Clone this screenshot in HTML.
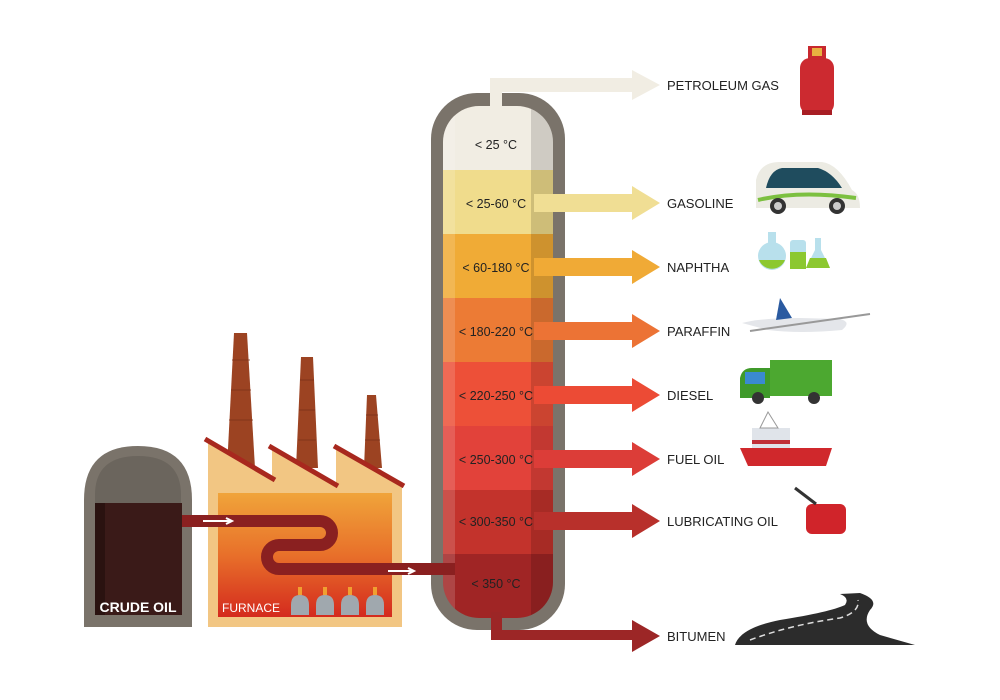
<!DOCTYPE html>
<html><head><meta charset="utf-8"><style>
html,body{margin:0;padding:0;background:#fff;}
svg{display:block;font-family:"Liberation Sans",sans-serif;}
</style></head><body>
<svg width="1000" height="700" viewBox="0 0 1000 700" xmlns="http://www.w3.org/2000/svg">
<defs>
<linearGradient id="furn" x1="0" y1="0" x2="0" y2="1">
<stop offset="0" stop-color="#f0a43a"/><stop offset="0.5" stop-color="#e8702a"/><stop offset="1" stop-color="#d42a1e"/>
</linearGradient>
<clipPath id="col"><rect x="443" y="106" width="110" height="512" rx="36"/></clipPath>
</defs>

<!-- column -->
<rect x="431" y="93" width="134" height="537" rx="46" fill="#7a736a"/>
<g clip-path="url(#col)">
<rect x="443" y="100" width="110" height="70" fill="#f1ede3"/>
<rect x="443" y="170" width="110" height="64" fill="#f0dc8c"/>
<rect x="443" y="234" width="110" height="64" fill="#f0ab36"/>
<rect x="443" y="298" width="110" height="64" fill="#ec7b35"/>
<rect x="443" y="362" width="110" height="64" fill="#ed5038"/>
<rect x="443" y="426" width="110" height="64" fill="#e2423a"/>
<rect x="443" y="490" width="110" height="64" fill="#c3332c"/>
<rect x="443" y="554" width="110" height="70" fill="#a02525"/>
<rect x="443" y="100" width="12" height="520" fill="#fff" opacity="0.15"/>
<rect x="531" y="100" width="22" height="520" fill="#000" opacity="0.14"/>
</g>

<!-- petroleum gas pipe -->
<path d="M490 108 V78 H632 V70 L660 85 L632 100 V92 H502 V108 Z" fill="#f1ede3"/>

<!-- arrows -->
<g>
<path d="M534 194 H632 V186 L660 203 L632 220 V212 H534 Z" fill="#f0de94"/>
<path d="M534 258 H632 V250 L660 267 L632 284 V276 H534 Z" fill="#f0aa36"/>
<path d="M534 322 H632 V314 L660 331 L632 348 V340 H534 Z" fill="#ec7335"/>
<path d="M534 386 H632 V378 L660 395 L632 412 V404 H534 Z" fill="#ec4b35"/>
<path d="M534 450 H632 V442 L660 459 L632 476 V468 H534 Z" fill="#dc3d38"/>
<path d="M534 512 H632 V504 L660 521 L632 538 V530 H534 Z" fill="#b8302b"/>
<path d="M491 612 V640 H632 V652 L660 636 L632 620 V630 H502 V612 Z" fill="#9c2626"/>
</g>

<!-- labels in column -->
<g font-size="12.5" fill="#222" text-anchor="middle">
<text x="496" y="149">&lt; 25 °C</text>
<text x="496" y="208">&lt; 25-60 °C</text>
<text x="496" y="272">&lt; 60-180 °C</text>
<text x="496" y="336">&lt; 180-220 °C</text>
<text x="496" y="400">&lt; 220-250 °C</text>
<text x="496" y="464">&lt; 250-300 °C</text>
<text x="496" y="526">&lt; 300-350 °C</text>
<text x="496" y="588">&lt; 350 °C</text>
</g>

<g font-size="13" fill="#222">
<text x="667" y="90">PETROLEUM GAS</text>
<text x="667" y="208">GASOLINE</text>
<text x="667" y="272">NAPHTHA</text>
<text x="667" y="336">PARAFFIN</text>
<text x="667" y="400">DIESEL</text>
<text x="667" y="464">FUEL OIL</text>
<text x="667" y="526">LUBRICATING OIL</text>
<text x="667" y="641">BITUMEN</text>
</g>

<!-- crude oil tank -->
<path d="M84 627 V500 Q84 446 138 446 Q192 446 192 500 V627 Z" fill="#7a736a"/>
<path d="M95 503 V495 Q95 456 138 456 Q181 456 181 495 V503 Z" fill="#6b655d"/>
<rect x="95" y="503" width="87" height="112" fill="#3a1a18"/>
<rect x="95" y="503" width="10" height="112" fill="#2a1210"/>
<text x="138" y="612" font-size="14" font-weight="bold" fill="#fff" text-anchor="middle">CRUDE OIL</text>

<!-- chimneys -->
<path d="M234 333 H247 L255 468 H227 Z" fill="#9c4322"/>
<path d="M301 357 H313 L318 468 H296 Z" fill="#9c4322"/>
<path d="M367 395 H376 L382 468 H364 Z" fill="#9c4322"/>
<g stroke="#7a3018" stroke-width="0.8">
<line x1="232" y1="360" x2="250" y2="360"/><line x1="231" y1="390" x2="251" y2="390"/><line x1="229" y1="420" x2="253" y2="420"/>
<line x1="300" y1="380" x2="314" y2="380"/><line x1="299" y1="410" x2="315" y2="410"/><line x1="298" y1="440" x2="316" y2="440"/>
<line x1="366" y1="415" x2="378" y2="415"/><line x1="365" y1="440" x2="380" y2="440"/>
</g>
<!-- furnace building -->
<path d="M208 627 V440 L272 478 V447 L336 485 V447 L402 485 V627 Z" fill="#f2c683"/>
<g stroke="#a8281e" stroke-width="5" stroke-linecap="butt">
<line x1="205" y1="439" x2="275" y2="480"/>
<line x1="269" y1="446" x2="338" y2="486"/>
<line x1="334" y1="446" x2="404" y2="486"/>
</g>
<rect x="218" y="493" width="174" height="124" fill="url(#furn)"/>
<!-- coil -->
<path d="M182 521 H320 A12 12 0 0 1 320 545 H279 A12 12 0 0 0 279 569 H455" fill="none" stroke="#8a2020" stroke-width="12"/>
<path d="M203 521 H232 M226 518 L232 521 L226 524" stroke="#fff" stroke-width="2" fill="none"/>
<path d="M388 571 H414 M408 568 L414 571 L408 574" stroke="#fff" stroke-width="2" fill="none"/>
<text x="222" y="612" font-size="12" fill="#fff">FURNACE</text>
<g fill="#a0a8ae">
<path d="M291 615 V605 Q291 595 300 595 Q309 595 309 605 V615 Z"/>
<path d="M316 615 V605 Q316 595 325 595 Q334 595 334 605 V615 Z"/>
<path d="M341 615 V605 Q341 595 350 595 Q359 595 359 605 V615 Z"/>
<path d="M366 615 V605 Q366 595 375 595 Q384 595 384 605 V615 Z"/>
</g>
<g fill="#f0a030"><rect x="298" y="587" width="4" height="8"/><rect x="323" y="587" width="4" height="8"/><rect x="348" y="587" width="4" height="8"/><rect x="373" y="587" width="4" height="8"/></g>

<!-- icons -->
<rect x="800" y="58" width="34" height="56" rx="10" fill="#cc2a30"/>
<rect x="808" y="46" width="18" height="14" fill="#c8282e"/>
<rect x="812" y="48" width="10" height="8" fill="#e8b040"/>
<rect x="802" y="110" width="30" height="5" fill="#a81e24"/>
<path d="M756 208 V180 Q760 162 780 162 H822 Q838 164 852 190 Q860 194 860 208 Z" fill="#ecebe3"/>
<path d="M766 188 Q770 170 782 168 H818 Q832 172 842 188 Z" fill="#1f4c5e"/>
<path d="M758 200 Q800 190 856 198" stroke="#7cc040" stroke-width="4" fill="none"/>
<circle cx="778" cy="206" r="8" fill="#333"/><circle cx="837" cy="206" r="8" fill="#333"/>
<circle cx="778" cy="206" r="4" fill="#ccc"/><circle cx="837" cy="206" r="4" fill="#ccc"/>
<circle cx="772" cy="256" r="14" fill="#b8e0ec"/><path d="M759 260 A14 14 0 0 0 785 260 Z" fill="#8cc830"/>
<rect x="768" y="232" width="8" height="12" fill="#b8e0ec"/>
<rect x="790" y="240" width="16" height="29" rx="3" fill="#b8e0ec"/><rect x="790" y="252" width="16" height="17" fill="#8cc830"/>
<path d="M815 238 H821 V250 L830 268 H806 L815 250 Z" fill="#b8e0ec"/><path d="M810 258 H826 L830 268 H806 Z" fill="#8cc830"/>
<path d="M742 323 Q760 318 800 318 L840 319 Q852 322 842 330 Q800 334 768 330 Z" fill="#e4e6ea"/>
<path d="M776 320 L780 298 L792 318 Z" fill="#2a5aa0"/>
<line x1="750" y1="331" x2="870" y2="314" stroke="#999" stroke-width="2"/>
<rect x="770" y="360" width="62" height="36" fill="#4ca830"/>
<path d="M740 398 V378 Q742 368 752 368 H770 V398 Z" fill="#3f9a2a"/>
<rect x="745" y="372" width="20" height="12" fill="#3a8ad0"/>
<circle cx="758" cy="398" r="6" fill="#333"/><circle cx="814" cy="398" r="6" fill="#333"/>
<path d="M740 448 H832 L826 466 H748 Z" fill="#d0282c"/>
<rect x="752" y="428" width="38" height="20" fill="#e0e4ea"/>
<rect x="752" y="440" width="38" height="4" fill="#c03038"/>
<path d="M760 428 L768 412 L778 428 Z" fill="none" stroke="#999"/>
<rect x="806" y="504" width="40" height="30" rx="6" fill="#d0242a"/>
<line x1="795" y1="488" x2="816" y2="504" stroke="#333" stroke-width="3"/>
<path d="M735 645 Q740 628 780 620 Q830 612 845 605 Q850 598 840 594 L860 593 Q880 600 870 610 Q860 625 880 635 L915 645 Z" fill="#2c2c2c"/>
<path d="M750 640 Q790 625 840 618 Q860 612 858 600" stroke="#ddd" stroke-width="1.5" stroke-dasharray="6 4" fill="none"/>
</svg>
</body></html>
